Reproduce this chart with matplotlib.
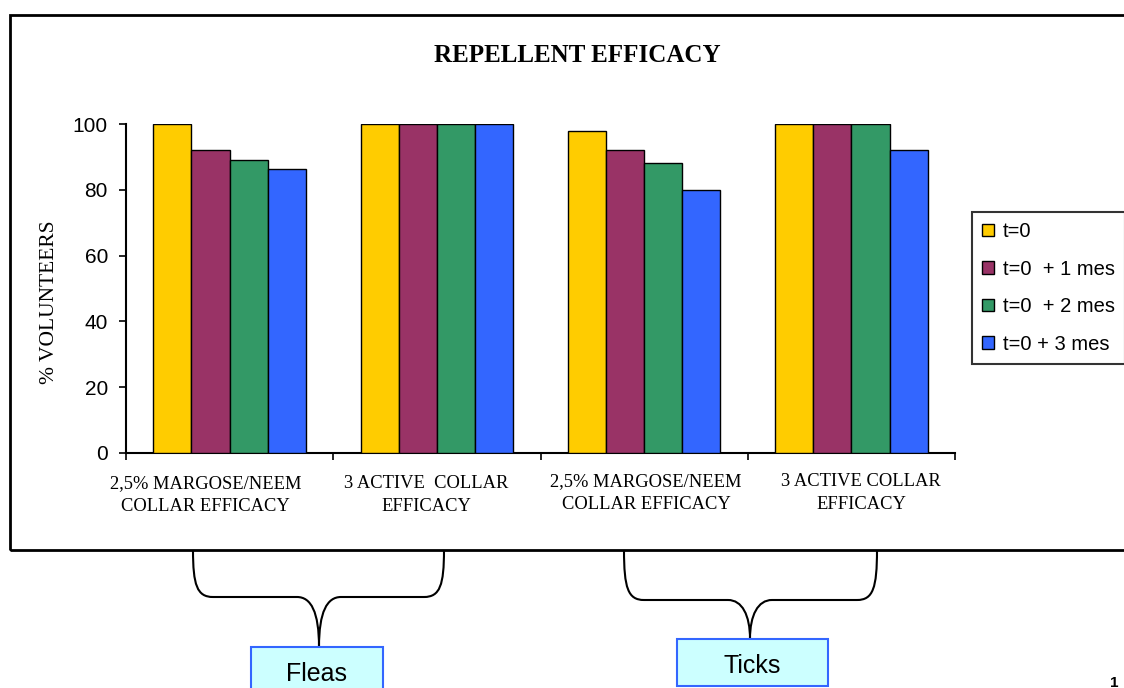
import matplotlib.pyplot as plt
from matplotlib.patches import Rectangle, PathPatch
from matplotlib.path import Path
import numpy as np

W, H = 1124, 688

categories = ["2,5% MARGOSE/NEEM\nCOLLAR EFFICACY", "3 ACTIVE  COLLAR\nEFFICACY",
              "2,5% MARGOSE/NEEM\nCOLLAR EFFICACY", "3 ACTIVE COLLAR\nEFFICACY"]
series = ["t=0", "t=0  + 1 mes", "t=0  + 2 mes", "t=0 + 3 mes"]
t0 = [100, 100, 98, 100]
t1 = [92, 100, 92, 100]
t2 = [89, 100, 88, 100]
t3 = [86.4, 100, 80, 92]
colors = ["#FFCC00", "#993366", "#339966", "#3366FF"]

groups = ["Fleas", "Ticks"]

serif = "Liberation Serif"
sans = "Liberation Sans"


def px(x, y):
    # pixel position (from top-left) -> figure fraction
    return x / W, 1 - y / H


fig = plt.figure(figsize=(W / 100, H / 100), dpi=100)
l, b = px(126, 453)
r, t = px(955, 124)
ax = fig.add_axes([l, b, r - l, t - b])

x = np.arange(len(categories))
bw = 0.184
for i, vals in enumerate([t0, t1, t2, t3]):
    ax.bar(x + (i - 1.5) * bw, vals, bw, color=colors[i], edgecolor="black",
           linewidth=1.0, label=series[i], zorder=3)

ax.set_xlim(-0.5, 3.5)
ax.set_ylim(0, 100)
ax.set_yticks([0, 20, 40, 60, 80, 100])
ax.tick_params(axis="y", labelsize=15, length=5, width=1.2, direction="out", pad=8)
for lab in ax.get_yticklabels():
    lab.set_fontfamily(sans)
ax.set_xticks([-0.5, 0.5, 1.5, 2.5, 3.5])
ax.set_xticklabels([])
ax.tick_params(axis="x", length=5, width=1.2, direction="out")
ax.spines["top"].set_visible(False)
ax.spines["right"].set_visible(False)
for s in ["left", "bottom"]:
    ax.spines[s].set_linewidth(1.5)

# category labels, nudged like in the original
offsets = [-0.115, -0.053, 0.01, 0.048]
ypos = [-0.068, -0.068, -0.062, -0.062]
for i, c in enumerate(categories):
    ax.text(x[i] + offsets[i], ypos[i], c, transform=ax.get_xaxis_transform(),
            ha="center", va="top", fontsize=13.3, family=serif, linespacing=1.4)

fig.text(*px(577, 55), "REPELLENT EFFICACY", ha="center", va="center",
         fontsize=18, fontweight="bold", family=serif)
fig.text(*px(50, 302), "% VOLUNTEERS", ha="center", va="center", rotation=90,
         fontsize=15.5, family=serif)

leg = fig.legend(loc="upper left", bbox_to_anchor=px(972, 212), prop={"family": sans, "size": 14.5},
                 frameon=True, fancybox=False, edgecolor="black", borderpad=0.5,
                 labelspacing=0.92, handlelength=0.6, handleheight=0.6, handletextpad=0.45,
                 borderaxespad=0)
leg.get_frame().set_linewidth(1.5)

# outer chart frame
x0, y0 = px(10, 550)
x1, y1 = px(1130, 15)
fig.patches.append(Rectangle((x0, y0), x1 - x0, y1 - y0, transform=fig.transFigure,
                             fill=False, edgecolor="black", linewidth=2))


def brace(xl, xr, xm, ytop, yh, yb):
    pts = [(xl, ytop), (xl, yh - 12), (xl + 4, yh), (xl + 20, yh),
           (xm - 22, yh),
           (xm - 8, yh), (xm, yh + 15), (xm, yb),
           (xm, yh + 15), (xm + 8, yh), (xm + 22, yh),
           (xr - 20, yh),
           (xr - 4, yh), (xr, yh - 12), (xr, ytop)]
    codes = [Path.MOVETO, Path.CURVE4, Path.CURVE4, Path.CURVE4,
             Path.LINETO,
             Path.CURVE4, Path.CURVE4, Path.CURVE4,
             Path.CURVE4, Path.CURVE4, Path.CURVE4,
             Path.LINETO,
             Path.CURVE4, Path.CURVE4, Path.CURVE4]
    verts = [px(a, c) for a, c in pts]
    fig.patches.append(PathPatch(Path(verts, codes), transform=fig.transFigure,
                                 fill=False, edgecolor="black", linewidth=1.5))


brace(193, 444, 319, 550, 597, 647)
brace(624, 877, 750, 550, 600, 639)

boxes = [(251, 647, 383, 700), (677, 639, 828, 686)]
for (bx0, by0, bx1, by1), name in zip(boxes, groups):
    fx0, fy0 = px(bx0, by1)
    fx1, fy1 = px(bx1, by0)
    fig.patches.append(Rectangle((fx0, fy0), fx1 - fx0, fy1 - fy0, transform=fig.transFigure,
                                 facecolor="#CCFFFF", edgecolor="#3366FF", linewidth=1.5))
    fig.text(*px((bx0 + bx1) / 2, by0 + 27), name, ha="center", va="center",
             fontsize=18, family=sans)

fig.text(*px(1110, 690), "1", ha="left", va="bottom", fontsize=11, fontweight="bold", family=sans)

fig.savefig("out.png", dpi=100)
